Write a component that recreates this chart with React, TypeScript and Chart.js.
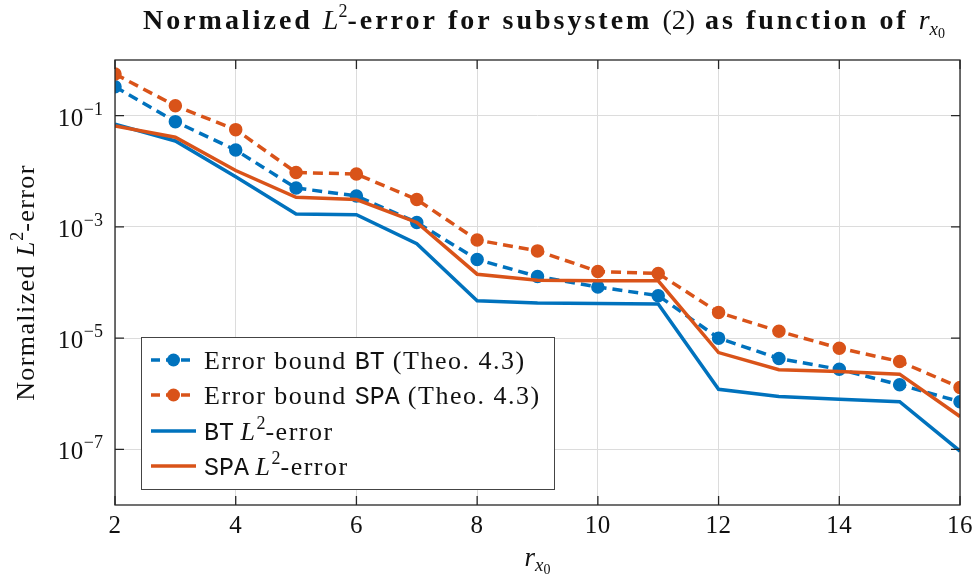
import React, { useEffect, useRef } from "react";
import { Chart, registerables } from "chart.js";

Chart.register(...registerables);

// ---------- data ----------
const rValues = [2, 3, 4, 5, 6, 7, 8, 9, 10, 11, 12, 13, 14, 15, 16];
const boundBT = [0.33, 0.078, 0.024, 0.005, 0.0036, 0.0012, 0.00026, 0.000128, 0.000083, 0.000058, 1.0e-5, 4.3e-6, 2.75e-6, 1.45e-6, 7.2e-7];
const boundSPA = [0.56, 0.15, 0.056, 0.0095, 0.0089, 0.0031, 0.00058, 0.00037, 0.000158, 0.000145, 2.9e-5, 1.33e-5, 6.6e-6, 3.8e-6, 1.3e-6];
const errBT = [0.07, 0.035, 0.008, 0.0017, 0.00165, 0.0005, 4.7e-5, 4.3e-5, 4.2e-5, 4.1e-5, 1.2e-6, 8.9e-7, 8.0e-7, 7.2e-7, 9.3e-8];
const errSPA = [0.065, 0.041, 0.0103, 0.0034, 0.0031, 0.0012, 0.000141, 0.00011, 0.000107, 0.000107, 5.5e-6, 2.7e-6, 2.5e-6, 2.25e-6, 3.9e-7];
const xTicks = [2, 4, 6, 8, 10, 12, 14, 16];
const yTicks = [1e-7, 1e-5, 1e-3, 1e-1];
const yTickExponents = ["\u22127", "\u22125", "\u22123", "\u22121"];

const BLUE = "#0072BD";
const ORANGE = "#D95319";
const SERIF = '"Liberation Serif", "Times New Roman", serif';
const MONO = '"Liberation Mono", "DejaVu Sans Mono", monospace';

type Run = { t: string; f: string; dy?: number; ls?: number; fixed?: boolean };

function runsWidth(ctx: CanvasRenderingContext2D, runs: Run[]) {
  let w = 0;
  for (const r of runs) {
    ctx.font = r.f;
    (ctx as any).letterSpacing = (r.ls ?? 0) + "px";
    w += ctx.measureText(r.t).width;
  }
  (ctx as any).letterSpacing = "0px";
  return w;
}

function drawRuns(ctx: CanvasRenderingContext2D, runs: Run[], x: number, y: number, align: "left" | "center" | "right") {
  const w = runsWidth(ctx, runs);
  let cx = align === "left" ? x : align === "center" ? x - w / 2 : x - w;
  ctx.textAlign = "left";
  ctx.textBaseline = "alphabetic";
  for (const r of runs) {
    ctx.font = r.f;
    (ctx as any).letterSpacing = (r.ls ?? 0) + "px";
    ctx.fillText(r.t, cx, y + (r.dy ?? 0));
    cx += ctx.measureText(r.t).width;
  }
  (ctx as any).letterSpacing = "0px";
}

// stretch letter spacing of the non-fixed runs so the total reaches a target width
function fitRuns(ctx: CanvasRenderingContext2D, runs: Run[], target: number): Run[] {
  const base = runs.map((r) => ({ ...r, ls: 0 }));
  const w = runsWidth(ctx, base);
  const n = base.reduce((s, r) => s + (r.fixed ? 0 : r.t.length), 0);
  const ls = Math.max(0, (target - w) / n);
  return base.map((r) => (r.fixed ? r : { ...r, ls }));
}

const decor = {
  id: "decor",
  afterDraw(chart: any) {
    const ctx: CanvasRenderingContext2D = chart.ctx;
    const a = chart.chartArea;
    const xs = chart.scales.x;
    const ys = chart.scales.y;
    ctx.save();
    // axes box
    ctx.strokeStyle = "#262626";
    ctx.lineWidth = 1.3;
    ctx.strokeRect(a.left, a.top, a.right - a.left, a.bottom - a.top);
    // tick marks
    ctx.beginPath();
    for (const v of xTicks) {
      const px = xs.getPixelForValue(v);
      ctx.moveTo(px, a.bottom);
      ctx.lineTo(px, a.bottom - 9);
      ctx.moveTo(px, a.top);
      ctx.lineTo(px, a.top + 9);
    }
    for (const v of yTicks) {
      const py = ys.getPixelForValue(v);
      ctx.moveTo(a.left, py);
      ctx.lineTo(a.left + 9, py);
      ctx.moveTo(a.right, py);
      ctx.lineTo(a.right - 9, py);
    }
    ctx.stroke();

    ctx.fillStyle = "#111";
    const LS = 0.6;
    // x tick labels
    for (const v of xTicks) {
      const px = xs.getPixelForValue(v);
      drawRuns(ctx, [{ t: String(v), f: `25px ${SERIF}`, ls: LS }], px, 533, "center");
    }
    // y tick labels
    yTicks.forEach((v, i) => {
      const py = ys.getPixelForValue(v);
      drawRuns(
        ctx,
        [
          { t: "10", f: `25px ${SERIF}`, ls: LS },
          { t: yTickExponents[i], f: `18px ${SERIF}`, dy: -11 },
        ],
        103,
        py + 10,
        "right"
      );
    });
    // x title
    drawRuns(
      ctx,
      [
        { t: "r", f: `italic 27px ${SERIF}` },
        { t: "x", f: `italic 19px ${SERIF}`, dy: 5 },
        { t: "0", f: `14px ${SERIF}`, dy: 8 },
      ],
      (a.left + a.right) / 2,
      566,
      "center"
    );
    // y title
    ctx.save();
    ctx.translate(34, (a.top + a.bottom) / 2);
    ctx.rotate(-Math.PI / 2);
    drawRuns(
      ctx,
      [
        { t: "Normalized ", f: `26px ${SERIF}`, ls: 1.4 },
        { t: "L", f: `italic 26px ${SERIF}`, ls: 1 },
        { t: "2", f: `18px ${SERIF}`, dy: -11 },
        { t: "-error", f: `26px ${SERIF}`, ls: 1.4 },
      ],
      0,
      0,
      "center"
    );
    ctx.restore();
    // title
    const TB = `bold 28px ${SERIF}`;
    const titleRuns = fitRuns(
      ctx,
      [
        { t: "Normalized ", f: TB },
        { t: "L", f: `italic 28px ${SERIF}`, fixed: true },
        { t: "2", f: `18px ${SERIF}`, dy: -12, fixed: true },
        { t: "-error for subsystem ", f: TB },
        { t: "(2)", f: `28px ${SERIF}`, fixed: true },
        { t: " as function of ", f: TB },
        { t: "r", f: `italic 28px ${SERIF}`, fixed: true },
        { t: "x", f: `italic 19px ${SERIF}`, dy: 6, fixed: true },
        { t: "0", f: `14px ${SERIF}`, dy: 9, fixed: true },
      ],
      802
    );
    drawRuns(ctx, titleRuns, 544, 29, "center");

    // legend
    const lx = 141, ly = 337, lw = 413, lh = 152;
    ctx.fillStyle = "#fff";
    ctx.fillRect(lx, ly, lw, lh);
    ctx.strokeStyle = "#444";
    ctx.lineWidth = 1;
    ctx.strokeRect(lx + 0.5, ly + 0.5, lw, lh);
    const LF = `26px ${SERIF}`;
    const LI = `italic 26px ${SERIF}`;
    const LM = `25px ${MONO}`;
    const LL = 1.5;
    const rows = [
      { color: BLUE, dashed: true, runs: [
        { t: "Error bound ", f: LF, ls: LL },
        { t: "BT", f: LM },
        { t: " (Theo. 4.3)", f: LF, ls: LL },
      ] },
      { color: ORANGE, dashed: true, runs: [
        { t: "Error bound ", f: LF, ls: LL },
        { t: "SPA", f: LM },
        { t: " (Theo. 4.3)", f: LF, ls: LL },
      ] },
      { color: BLUE, dashed: false, runs: [
        { t: "BT", f: LM },
        { t: " ", f: LF },
        { t: "L", f: LI, ls: LL },
        { t: "2", f: `18px ${SERIF}`, dy: -11 },
        { t: "-error", f: LF, ls: LL },
      ] },
      { color: ORANGE, dashed: false, runs: [
        { t: "SPA", f: LM },
        { t: " ", f: LF },
        { t: "L", f: LI, ls: LL },
        { t: "2", f: `18px ${SERIF}`, dy: -11 },
        { t: "-error", f: LF, ls: LL },
      ] },
    ];
    const rowY = [360, 395, 431, 466];
    rows.forEach((row, i) => {
      const cy = rowY[i];
      ctx.strokeStyle = row.color;
      ctx.lineWidth = 3.5;
      ctx.setLineDash(row.dashed ? [9, 6] : []);
      ctx.beginPath();
      ctx.moveTo(151, cy);
      ctx.lineTo(196, cy);
      ctx.stroke();
      ctx.setLineDash([]);
      if (row.dashed) {
        ctx.fillStyle = row.color;
        ctx.beginPath();
        ctx.arc(173.5, cy, 6.5, 0, Math.PI * 2);
        ctx.fill();
      }
      ctx.fillStyle = "#111";
      drawRuns(ctx, row.runs, 204, cy + 9, "left");
    });
    ctx.restore();
  },
};

function toPts(vals: number[]) {
  return rValues.map((r, i) => ({ x: r, y: vals[i] }));
}

export default function App() {
  const ref = useRef<HTMLCanvasElement | null>(null);
  useEffect(() => {
    if (!ref.current) return;
    const dashedStyle = (color: string, order: number) => ({
      borderColor: color,
      backgroundColor: color,
      borderWidth: 3.5,
      borderDash: [10, 6],
      pointRadius: 6,
      pointBackgroundColor: color,
      pointBorderColor: color,
      pointBorderWidth: 1.5,
      pointStyle: "circle",
      tension: 0,
      order,
    });
    const solidStyle = (color: string, order: number) => ({
      borderColor: color,
      backgroundColor: color,
      borderWidth: 3.5,
      pointRadius: 0,
      tension: 0,
      order,
    });
    const chart = new Chart(ref.current, {
      type: "line",
      data: {
        datasets: [
          { label: "Error bound BT (Theo. 4.3)", data: toPts(boundBT), ...dashedStyle(BLUE, 4) },
          { label: "Error bound SPA (Theo. 4.3)", data: toPts(boundSPA), ...dashedStyle(ORANGE, 3) },
          { label: "BT L2-error", data: toPts(errBT), ...solidStyle(BLUE, 2) },
          { label: "SPA L2-error", data: toPts(errSPA), ...solidStyle(ORANGE, 1) },
        ] as any,
      },
      options: {
        animation: false,
        responsive: false,
        layout: { padding: { left: 115, right: 20, top: 60, bottom: 76 } },
        plugins: { legend: { display: false }, tooltip: { enabled: false }, title: { display: false } },
        scales: {
          x: {
            type: "linear",
            min: 2,
            max: 16,
            ticks: { display: false, stepSize: 2 },
            afterBuildTicks: (s: any) => { s.ticks = xTicks.map((v) => ({ value: v })); },
            afterFit: (s: any) => { s.height = 0; },
            grid: { color: "#dcdcdc", lineWidth: 1, drawTicks: false },
            border: { display: false },
          },
          y: {
            type: "logarithmic",
            min: 1e-8,
            max: 1,
            ticks: { display: false },
            afterBuildTicks: (s: any) => { s.ticks = yTicks.map((v) => ({ value: v })); },
            afterFit: (s: any) => { s.width = 0; },
            grid: { color: "#dcdcdc", lineWidth: 1, drawTicks: false },
            border: { display: false },
          },
        },
      } as any,
      plugins: [decor],
    });
    return () => chart.destroy();
  }, []);
  return (
    <div style={{ position: "fixed", left: 0, top: 0, width: 980, height: 581, background: "#fff" }}>
      <canvas ref={ref} width={980} height={581} style={{ display: "block", width: 980, height: 581 }} />
    </div>
  );
}
